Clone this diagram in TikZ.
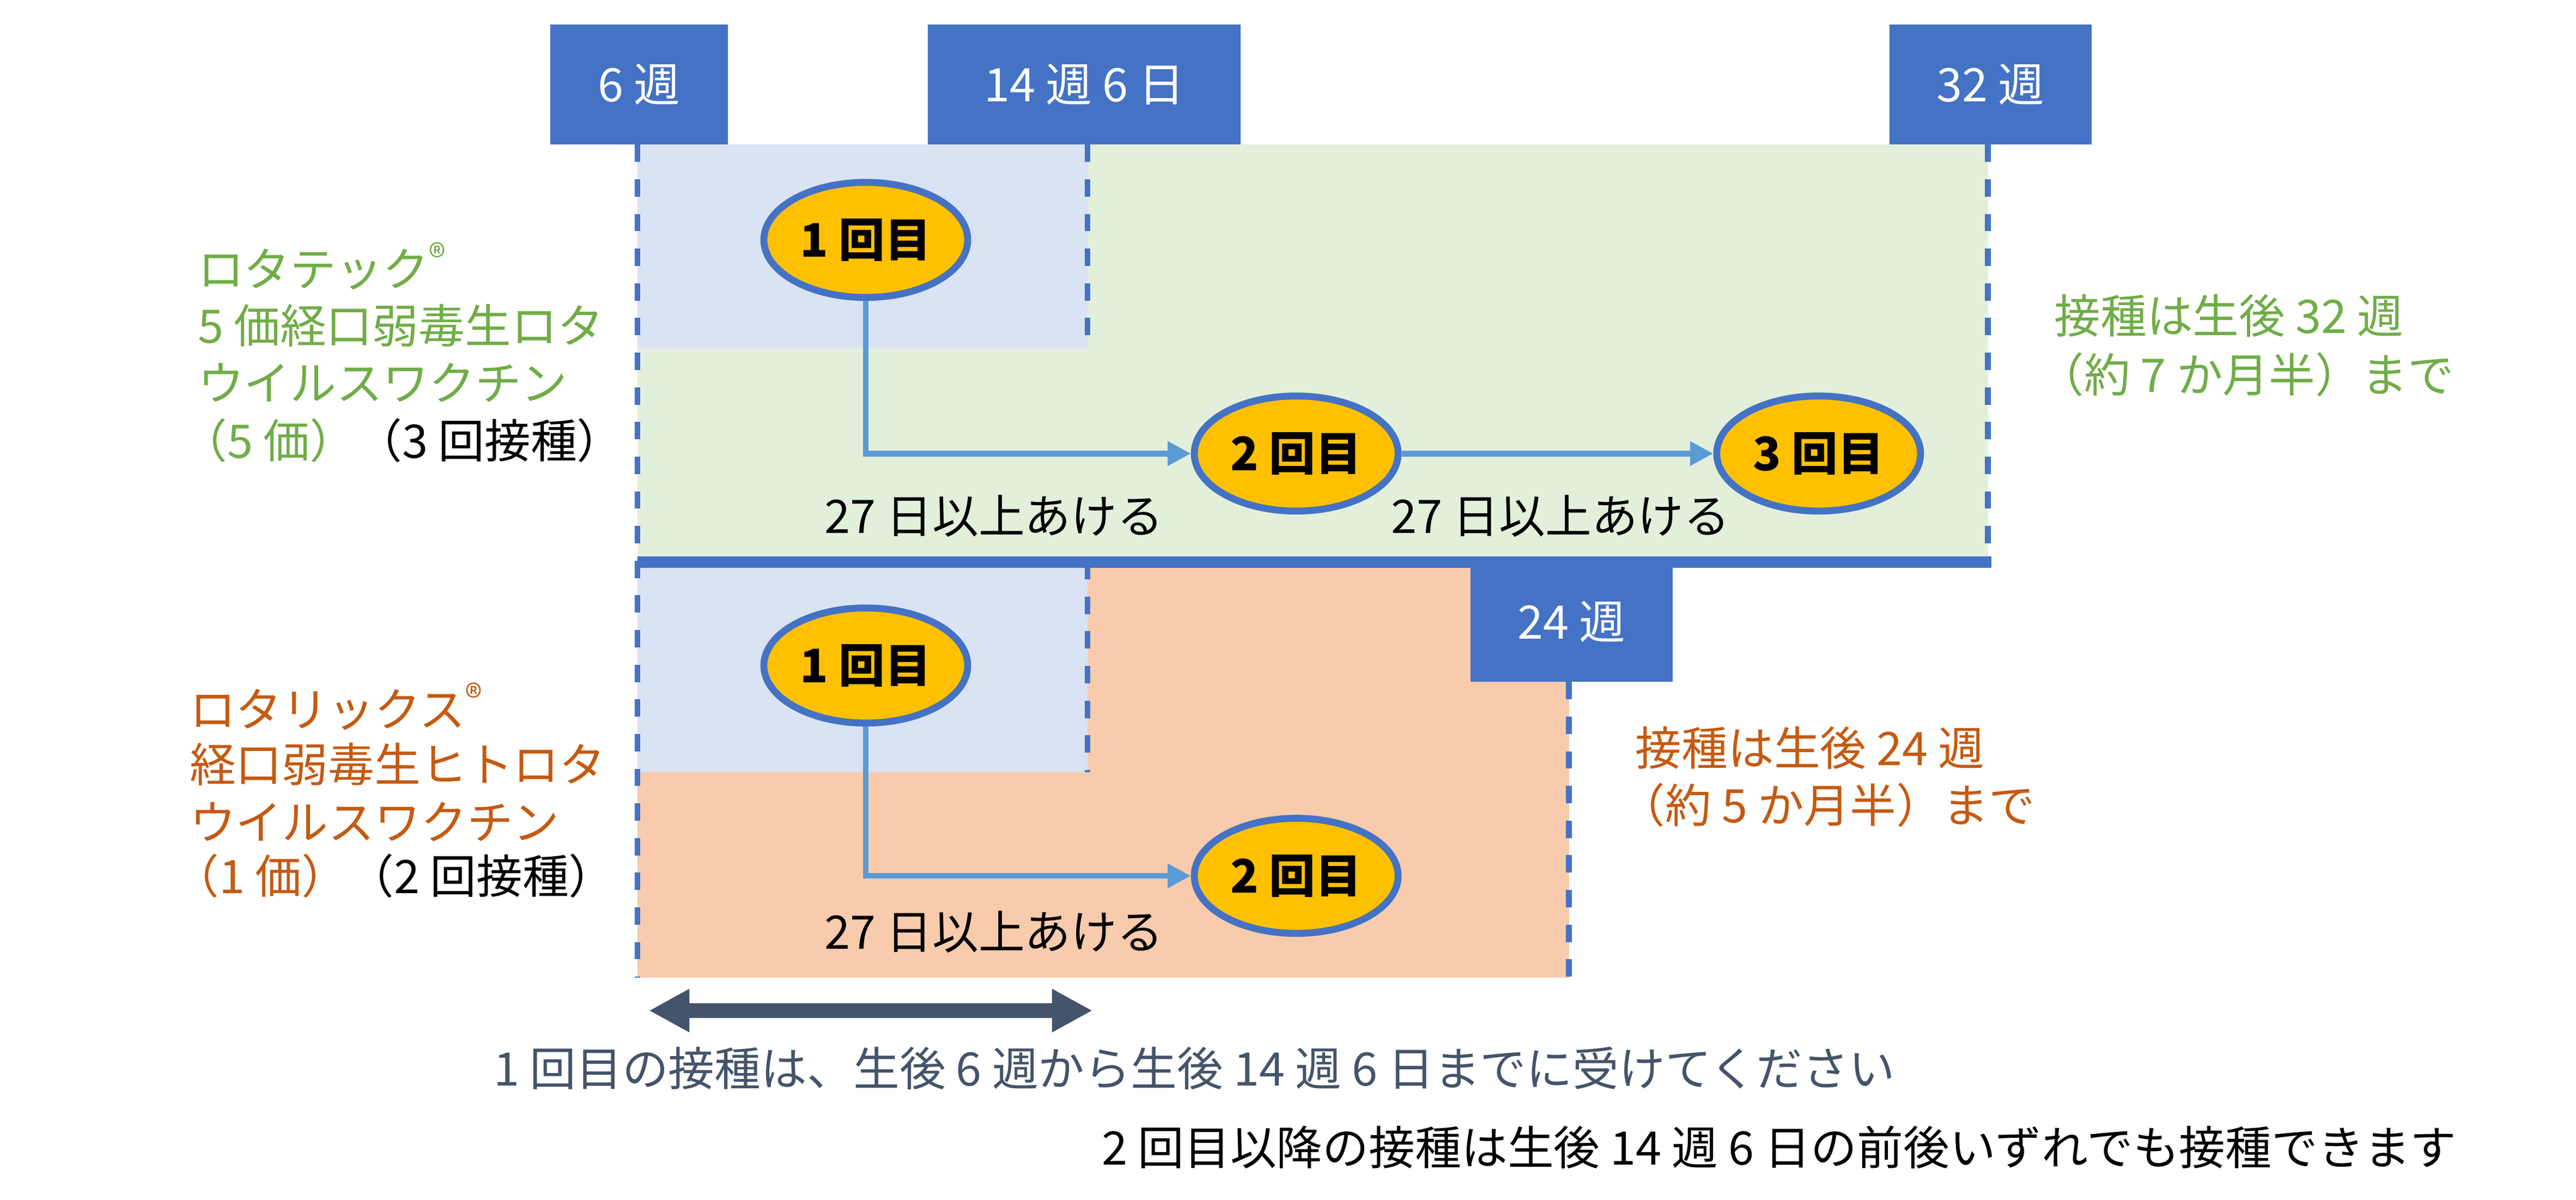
\documentclass[tikz,border=0pt]{standalone}
\usepackage{fontspec}
\setmainfont{Noto Sans CJK JP}
\usetikzlibrary{arrows.meta,shapes.geometric}
\definecolor{boxblue}{HTML}{4472C4}
\definecolor{lightgreen}{HTML}{E2EFDA}
\definecolor{lightblue}{HTML}{DAE3F3}
\definecolor{lightorange}{HTML}{F8CBAD}
\definecolor{dosefill}{HTML}{FFC000}
\definecolor{arrowblue}{HTML}{5B9BD5}
\definecolor{textgreen}{HTML}{70AD47}
\definecolor{textorange}{HTML}{C55A11}
\definecolor{slate}{HTML}{44546A}
\begin{document}
\begin{tikzpicture}[x=0.01cm,y=-0.01cm,
  font=\fontsize{8pt}{9pt}\selectfont,
  week/.style={fill=boxblue,text=white,inner sep=0pt},
  dose/.style={ellipse,draw=boxblue,line width=1.2pt,fill=dosefill,
    minimum width=1.24cm,minimum height=0.7cm,inner sep=0pt,font=\fontsize{8pt}{9pt}\selectfont\bfseries},
  limit/.style={boxblue,dashed,line width=1pt},
  interval/.style={arrowblue,line width=1pt,-{Triangle[length=4pt,width=4pt]}}]
  \useasboundingbox (0,0) rectangle (1568,730);
  % regions
  \fill[lightgreen] (388,88) rectangle (1210,342);
  \fill[lightblue] (388,88) rectangle (662,212);
  \fill[lightorange] (388,342) rectangle (955,595);
  \fill[lightblue] (388,342) rectangle (662,470);
  % week boxes
  \node[week,minimum width=1.08cm,minimum height=0.73cm] (w6) at (389,51.5) {6 週};
  \node[week,minimum width=1.9cm,minimum height=0.73cm] (w14) at (660,51.5) {14 週 6 日};
  \node[week,minimum width=1.23cm,minimum height=0.73cm] (w32) at (1211.5,51.5) {32 週};
  \node[week,minimum width=1.23cm,minimum height=0.73cm] (w24) at (956.5,378.5) {24 週};
  % limits
  \draw[limit] (388,88) -- (388,595);
  \draw[limit] (662,88) -- (662,212);
  \draw[limit] (662,342) -- (662,470);
  \draw[limit] (1210,88) -- (1210,342);
  \draw[limit] (955,415) -- (955,595);
  \draw[boxblue,line width=2pt] (388,342) -- (1212,342);
  % doses
  \node[dose] (a1) at (527,146) {1 回目};
  \node[dose] (a2) at (789,276) {2 回目};
  \node[dose] (a3) at (1107,276) {3 回目};
  \node[dose] (b1) at (527,405) {1 回目};
  \node[dose] (b2) at (789,533) {2 回目};
  \draw[interval] (a1.south) |- (a2.west);
  \draw[interval] (a2.east) -- (a3.west);
  \draw[interval] (b1.south) |- (b2.west);
  \node (ga) at (605,314) {27 日以上あける};
  \node (gb) at (950,314) {27 日以上あける};
  \node (gc) at (605,567) {27 日以上あける};
  % vaccine names
  \node[textgreen,anchor=west] (rt1) at (108,162) {ロタテック\textsuperscript{®}};
  \node[textgreen,anchor=west] (rt2) at (108,198) {5 価経口弱毒生ロタ};
  \node[textgreen,anchor=west] (rt3) at (108,233) {ウイルスワクチン};
  \node[anchor=west] (rt4) at (98,268) {\textcolor{textgreen}{（5 価）}（3 回接種）};
  \node[textorange,anchor=west] (rx1) at (103,430) {ロタリックス\textsuperscript{®}};
  \node[textorange,anchor=west] (rx2) at (103,465) {経口弱毒生ヒトロタ};
  \node[textorange,anchor=west] (rx3) at (103,500) {ウイルスワクチン};
  \node[anchor=west] (rx4) at (93,533) {\textcolor{textorange}{（1 価）}（2 回接種）};
  % deadlines
  \node[textgreen,anchor=west] (dg1) at (1238,192) {接種は生後 32 週};
  \node[textgreen,anchor=west] (dg2) at (1228,228) {（約 7 か月半）まで};
  \node[textorange,anchor=west] (do1) at (983,455) {接種は生後 24 週};
  \node[textorange,anchor=west] (do2) at (973,490) {（約 5 か月半）まで};
  % first dose window
  \coordinate (s) at (395,615);
  \coordinate (e) at (665,615);
  \draw[slate,line width=2.5pt,{Triangle[length=7pt,width=7pt]}-{Triangle[length=7pt,width=7pt]}] (s) -- (e);
  \node[slate] (n1) at (727,650) {1 回目の接種は、生後 6 週から生後 14 週 6 日までに受けてください};
  \node (n2) at (1083,698) {2 回目以降の接種は生後 14 週 6 日の前後いずれでも接種できます};
\end{tikzpicture}
\end{document}
